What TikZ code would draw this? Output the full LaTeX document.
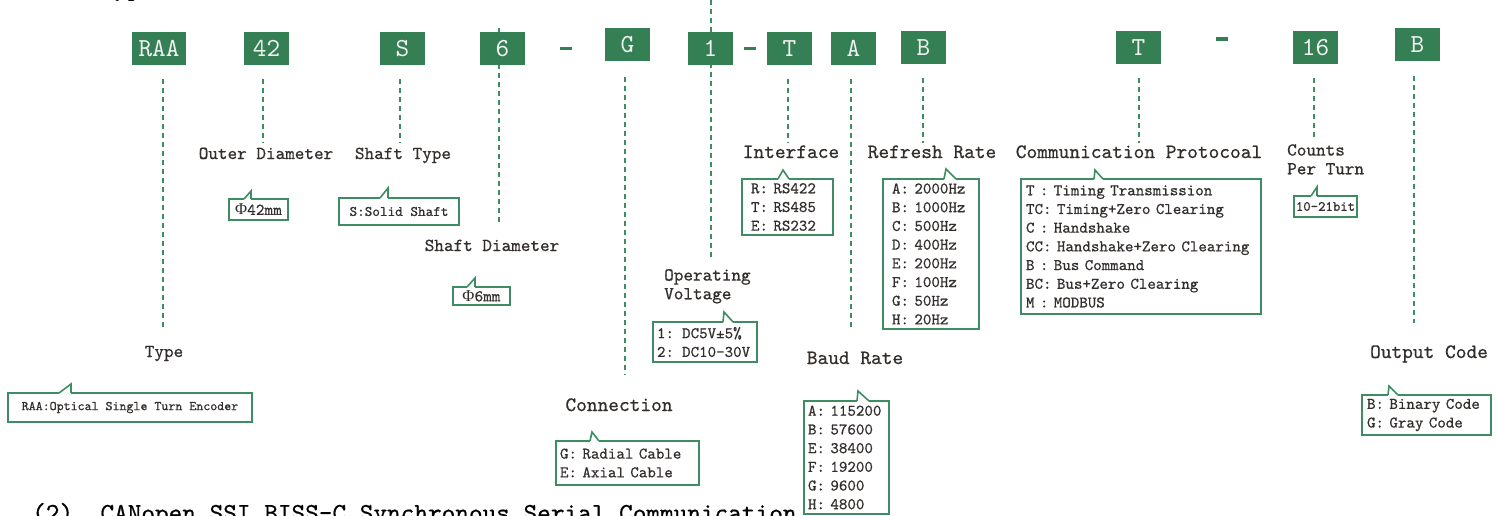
\documentclass[tikz,border=0pt]{standalone}
\usepackage{fontspec}
\setmonofont{lmmono10-regular}[Extension=.otf,FakeBold=0.6]
\newfontfamily\codefont{lmmono10-regular}[Extension=.otf]
\newfontfamily\phifont{Liberation Serif}
\usepackage{tikz}
\usetikzlibrary{positioning,backgrounds}

\definecolor{codegreen}{RGB}{53,127,85}
\definecolor{leadgreen}{RGB}{62,140,98}
\definecolor{inkgray}{RGB}{50,46,44}

\newcommand{\tfont}[2]{\ttfamily\fontsize{#1}{#2}\selectfont}
% speech bubble tail on top of a note: node, left x, apex x, right x, height
\newcommand{\calltail}[5]{%
  \draw[white,line width=2.4pt] ([xshift=#2pt]#1.north west) -- ([xshift=#4pt]#1.north west);
  \draw[tail] ([xshift=#2pt]#1.north west) -- ([xshift=#3pt,yshift=#5pt]#1.north west) -- ([xshift=#4pt]#1.north west);}

\begin{document}
\begin{tikzpicture}[x=1pt,y=-1pt]
\tikzstyle{code}=[rectangle,fill=codegreen,text=white!94!black,minimum width=45pt,minimum height=33pt,inner sep=0pt,font=\codefont\fontsize{26pt}{27pt}\selectfont]
\tikzstyle{dashbar}=[rectangle,fill=codegreen,minimum width=12pt,minimum height=3pt,inner sep=0pt]
\tikzstyle{lead}=[leadgreen,line width=1.7pt,dash pattern=on 5pt off 4pt,shorten <=14pt]
\tikzstyle{lab}=[text=inkgray,inner sep=0pt,anchor=base,font=\tfont{18.3pt}{18.7pt}]
\tikzstyle{labL}=[text=inkgray,inner sep=0pt,anchor=base,font=\tfont{20.4pt}{21pt}]
\tikzstyle{note}=[rectangle,draw=leadgreen,fill=white,line width=1.6pt,anchor=north west,align=left,outer sep=0pt,inner ysep=1pt,text=inkgray,font=\tfont{16.2pt}{18.7pt}]
\tikzstyle{tail}=[leadgreen,line width=1.6pt]
    \useasboundingbox (0,0) rectangle (1499,515);
    \clip (0,0) rectangle (1499,515);
    % clipped headings
    \node[anchor=base west,inner sep=0pt,font=\tfont{26pt}{26pt}] (head1) at (32,-5) {(1)\ \ Type};
    \node[anchor=base west,inner sep=0pt,font=\tfont{26pt}{26pt}] (head2) at (32,521) {(2)\ \ CANopen SSI BISS-C Synchronous Serial Communication};
    % code boxes
    \node[code,minimum width=54pt] (raa) at (159,48.5) {RAA};
    \node[code] (od) at (266.5,48.5) {42};
    \node[code] (st) at (402.5,48.5) {S};
    \node[code] (sd) at (502.5,48.5) {6};
    \node[dashbar] (dash1) at (565.5,48) {};
    \node[code] (cn) at (627.5,44.5) {G};
    \node[code] (ov) at (710.5,48.5) {1};
    \node[dashbar] (dash2) at (750,48) {};
    \node[code] (itf) at (789.5,48.5) {T};
    \node[code] (br) at (853.5,48.5) {A};
    \node[code] (rr) at (923.5,47.5) {B};
    \node[code] (cp) at (1138.5,47.5) {T};
    \node[dashbar,minimum height=4pt] (dash3) at (1221.5,39) {};
    \node[code] (cpt) at (1315.5,47.5) {16};
    \node[code] (oc) at (1417.5,44.5) {B};
    % leader ends
    \coordinate (typeEnd) at (163,327);
    \coordinate (odEnd) at (263,143);
    \coordinate (stEnd) at (400,143);
    \coordinate (sdEnd) at (499,225);
    \coordinate (cnEnd) at (625,375);
    \coordinate (ovEnd) at (711,257);
    \coordinate (ifEnd) at (788,143);
    \coordinate (brEnd) at (851,327);
    \coordinate (rrEnd) at (923,143);
    \coordinate (cpEnd) at (1139,143);
    \coordinate (cptEnd) at (1314,138);
    \coordinate (ocEnd) at (1414,323);
    \begin{scope}[on background layer]
    \draw[lead] (raa.south -| typeEnd) -- (typeEnd);
    \draw[lead] (od.south -| odEnd) -- (odEnd);
    \draw[lead] (st.south -| stEnd) -- (stEnd);
    \draw[lead,shorten <=-4pt] (sd.north -| sdEnd) -- (sdEnd);
    \draw[lead,shorten <=16pt] (cn.south -| cnEnd) -- (cnEnd);
    \draw[lead,shorten <=-32pt] (ov.north -| ovEnd) -- (ovEnd);
    \draw[lead] (itf.south -| ifEnd) -- (ifEnd);
    \draw[lead] (br.south -| brEnd) -- (brEnd);
    \draw[lead] (rr.south -| rrEnd) -- (rrEnd);
    \draw[lead] (cp.south -| cpEnd) -- (cpEnd);
    \draw[lead] (cpt.south -| cptEnd) -- (cptEnd);
    \draw[lead,shorten <=15pt] (oc.south -| ocEnd) -- (ocEnd);
    \end{scope}
    % labels
    \node[lab] (typeLab) at (164,357) {Type};
    \node[lab] (odLab) at (266,159) {Outer Diameter};
    \node[lab] (stLab) at (403,159) {Shaft Type};
    \node[lab] (sdLab) at (492,251) {Shaft Diameter};
    \node[labL] (cnLab) at (619,411) {Connection};
    \node[lab,anchor=north west,align=left] (ovLab) at (664,269) {Operating\\Voltage};
    \node[labL] (ifLab) at (791,158) {Interface};
    \node[labL] (rrLab) at (932,158) {Refresh Rate};
    \node[labL] (brLab) at (855,364) {Baud Rate};
    \node[labL] (cpLab) at (1139,158) {Communication Protocoal};
    \node[lab,anchor=north west,align=left] (cptLab) at (1287,144) {Counts\\Per Turn};
    \node[labL] (ocLab) at (1429,358) {Output Code};
    % notes
    \node[note,minimum width=244pt,minimum height=29pt,font=\tfont{13.3pt}{16pt}] (typeNote) at (8,393) {RAA:Optical Single Turn Encoder};
    \node[note,minimum width=59pt,minimum height=21pt,inner xsep=2pt,font=\tfont{16.5pt}{18pt}] (odNote) at (229,199) {{\phifont Φ}42mm};
    \node[note,minimum width=120pt,minimum height=27pt,font=\tfont{14.5pt}{16pt}] (stNote) at (339,198) {S:Solid Shaft};
    \node[note,minimum width=57pt,minimum height=18pt,inner xsep=2pt,font=\tfont{16.5pt}{18pt}] (sdNote) at (453,287) {{\phifont Φ}6mm};
    \node[note,inner xsep=9pt,text width=73pt,minimum height=56pt] (ifNote) at (742,179) {R: RS422\\T: RS485\\E: RS232};
    \node[note,inner xsep=9pt,text width=78pt,minimum height=150pt] (rrNote) at (883,179) {A: 2000Hz\\B: 1000Hz\\C: 500Hz\\D: 400Hz\\E: 200Hz\\F: 100Hz\\G: 50Hz\\H: 20Hz};
    \node[note,inner xsep=5pt,text width=230pt,minimum height=135pt] (cpNote) at (1021,179) {T : Timing Transmission\\TC: Timing+Zero Clearing\\C : Handshake\\CC: Handshake+Zero Clearing\\B : Bus Command\\BC: Bus+Zero Clearing\\M : MODBUS};
    \node[note,minimum width=63pt,minimum height=21pt,inner xsep=1pt,font=\tfont{14.1pt}{16pt}] (cptNote) at (1294,196) {10-21bit};
    \node[note,inner xsep=4pt,text width=96pt,minimum height=40pt] (ovNote) at (653,322) {1: DC5V±5\%\\2: DC10-30V};
    \node[note,inner xsep=4pt,text width=135pt,minimum height=44pt] (cnNote) at (556,441) {G: Radial Cable\\E: Axial Cable};
    \node[note,inner xsep=4pt,text width=77pt,minimum height=113pt] (brNote) at (804,401) {A: 115200\\B: 57600\\E: 38400\\F: 19200\\G: 9600\\H: 4800};
    \node[note,inner xsep=5pt,text width=119pt,minimum height=40pt] (ocNote) at (1362,395) {B: Binary Code\\G: Gray Code};
    % tails
    \calltail{typeNote}{51}{63}{63}{9}
    \calltail{odNote}{15}{22}{22}{8}
    \calltail{stNote}{41}{49}{49}{10}
    \calltail{sdNote}{14}{22}{22}{9}
    \calltail{ifNote}{36}{41}{47}{9}
    \calltail{rrNote}{61}{63}{73}{10}
    \calltail{cpNote}{73}{74}{82}{9}
    \calltail{cptNote}{17}{23}{23}{9}
    \calltail{ovNote}{70}{71}{80}{10}
    \calltail{cnNote}{34}{36}{43}{9}
    \calltail{brNote}{53}{54}{65}{10}
    \calltail{ocNote}{26}{27}{36}{9}
  \end{tikzpicture}
\end{document}
